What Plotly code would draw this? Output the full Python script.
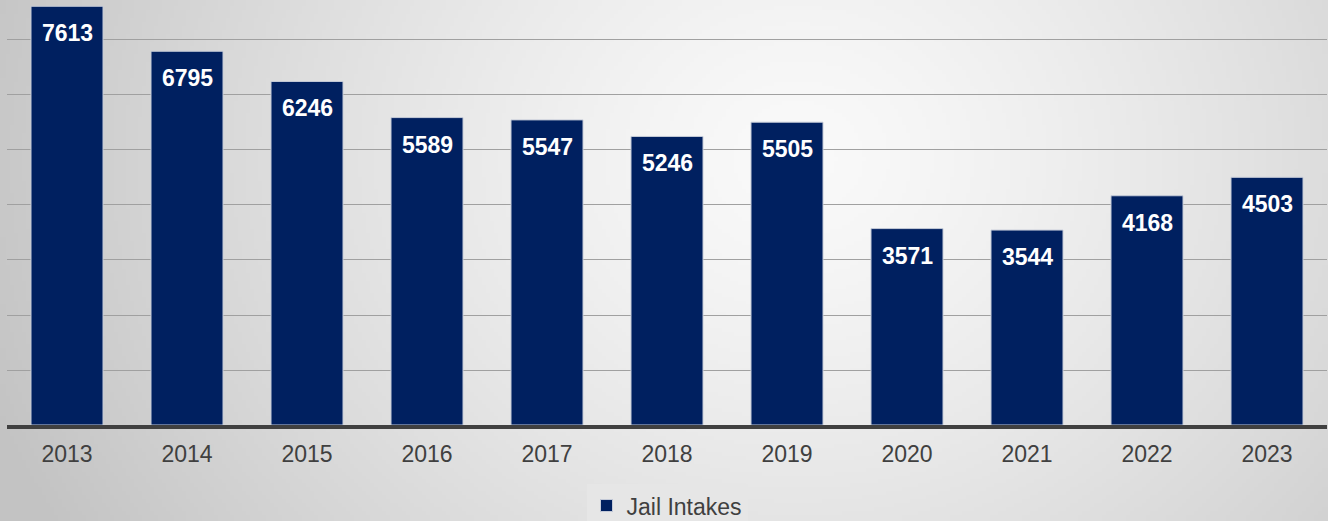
"""Jail intakes per year, drawn as a navy bar chart on a soft grey backdrop."""

import base64
import struct
import zlib

import numpy as np
import plotly.graph_objects as go

years = ["2013", "2014", "2015", "2016", "2017", "2018", "2019", "2020", "2021", "2022", "2023"]
intakes = [7613, 6795, 6246, 5589, 5547, 5246, 5505, 3571, 3544, 4168, 4503]
series_name = "Jail Intakes"

NAVY = "#002060"
FONT = "Liberation Sans, Arial, sans-serif"


def gradient_png(width: int, height: int) -> str:
    """Radial white-to-grey backdrop as a PNG data URI."""

    ys, xs = np.mgrid[0:height, 0:width].astype(float)
    cx, cy = 0.6 * width, 0.3 * height
    dist = np.sqrt(((xs - cx) / width) ** 2 + ((ys - cy) / height * 0.45) ** 2)
    dist = np.clip(dist / 0.65, 0, 1)
    shade = (250 - 55 * dist ** 1.3).astype(np.uint8)
    raw = b"".join(b"\x00" + bytes(row) for row in shade)

    def chunk(tag: bytes, data: bytes) -> bytes:
        return struct.pack(">I", len(data)) + tag + data + struct.pack(">I", zlib.crc32(tag + data) & 0xFFFFFFFF)

    png = b"\x89PNG\r\n\x1a\n"
    png += chunk(b"IHDR", struct.pack(">IIBBBBB", width, height, 8, 0, 0, 0, 0))
    png += chunk(b"IDAT", zlib.compress(raw, 9))
    png += chunk(b"IEND", b"")
    return "data:image/png;base64," + base64.b64encode(png).decode()


fig = go.Figure(
    go.Bar(
        x=years,
        y=intakes,
        name=series_name,
        marker=dict(color=NAVY, line=dict(color="#c5cbd8", width=1)),
        hovertemplate="%{x}: %{y}<extra></extra>",
    )
)

# value labels sit just under the top of each bar (x given as category index)
for i, value in enumerate(intakes):
    fig.add_annotation(
        x=i,
        y=value,
        yanchor="top",
        yshift=-12,
        text=f"<b>{value}</b>",
        showarrow=False,
        font=dict(family=FONT, size=23, color="white"),
    )

plot_w, plot_h = 1320, 425
fig.add_layout_image(
    source=gradient_png(332, 131),
    xref="paper",
    yref="paper",
    x=-7 / plot_w,
    y=1,
    sizex=1328 / plot_w,
    sizey=521 / plot_h,
    xanchor="left",
    yanchor="top",
    sizing="stretch",
    layer="below",
)

fig.update_layout(
    width=1328,
    height=521,
    margin=dict(l=7, r=1, t=0, b=96, autoexpand=False),
    paper_bgcolor="#e0e0e0",
    plot_bgcolor="rgba(0,0,0,0)",
    bargap=0.4,
    showlegend=True,
    legend=dict(
        orientation="h",
        x=0.5,
        xanchor="center",
        y=-0.139,
        yanchor="top",
        bgcolor="#e6e6e6",
        font=dict(family=FONT, size=23, color="#404040"),
        itemwidth=30,
    ),
    font=dict(family=FONT),
)
fig.update_xaxes(
    type="category",
    range=[-0.5, len(years) - 0.5],
    showline=True,
    linecolor="#404040",
    linewidth=4,
    tickfont=dict(family=FONT, size=23, color="#404040"),
    ticklabelstandoff=5,
    showgrid=False,
    automargin=False,
)
fig.update_yaxes(
    range=[0, 7727],
    dtick=1000,
    showticklabels=False,
    showgrid=True,
    gridcolor="#a0a0a0",
    gridwidth=1,
    zeroline=False,
    automargin=False,
)

fig.write_html(
    "out.html",
    config={"displayModeBar": False},
    post_script="document.body.style.margin='0';",
)
